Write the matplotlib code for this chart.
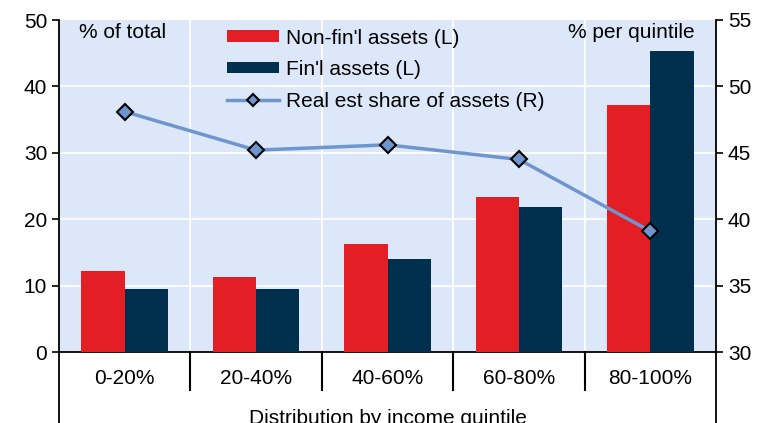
import matplotlib
matplotlib.use("Agg")
import matplotlib.pyplot as plt
from matplotlib.lines import Line2D
import numpy as np

plt.rcParams['font.family'] = ['Liberation Sans', 'DejaVu Sans']

categories = ["0-20%", "20-40%", "40-60%", "60-80%", "80-100%"]
nonfin = [12.2, 11.3, 16.3, 23.3, 37.2]
fin = [9.5, 9.5, 14.0, 21.8, 45.3]
realest = [48.1, 45.2, 45.6, 44.5, 39.1]

RED = "#E31E24"
NAVY = "#00304E"
LINEC = "#6F95CF"
BG = "#DCE8FA"
FS = 15

fig = plt.figure(figsize=(7.72, 4.23), dpi=100)
ax = fig.add_axes([59/772, 1-352/423, (716-59)/772, (352-20)/423])
ax.set_facecolor(BG)
x = np.arange(len(categories))
w = 0.33
b1 = ax.bar(x - w/2, nonfin, w, color=RED, label="Non-fin'l assets (L)", zorder=3)
b2 = ax.bar(x + w/2, fin, w, color=NAVY, label="Fin'l assets (L)", zorder=3)
ax.set_xlim(-0.5, len(categories) - 0.5)
ax.set_ylim(0, 50)
ax.set_yticks(range(0, 51, 10))
ax.tick_params(axis='y', labelsize=FS, direction='out', length=5, width=1.2)
ax.set_xticks([])
for v in range(10, 50, 10):
    ax.axhline(v, color='white', lw=1.3, zorder=1)
for b in np.arange(0.5, len(categories) - 0.5, 1):
    ax.axvline(b, color='white', lw=1.3, zorder=1)
ax.spines['top'].set_visible(False)
ax.spines['left'].set_linewidth(1.3)
ax.spines['bottom'].set_linewidth(1.3)
ax.spines['right'].set_visible(False)

ax2 = ax.twinx()
ax2.set_ylim(30, 55)
ax2.set_yticks(range(30, 56, 5))
ax2.tick_params(axis='y', labelsize=FS, direction='out', length=5, width=1.2)
ax2.spines['top'].set_visible(False)
ax2.spines['left'].set_visible(False)
ax2.spines['bottom'].set_visible(False)
ax2.spines['right'].set_linewidth(1.3)
ln, = ax2.plot(x, realest, color=LINEC, lw=2.5, marker='D', markersize=8,
               markerfacecolor=LINEC, markeredgecolor='black', markeredgewidth=1.5,
               label="Real est share of assets (R)", zorder=4)

ax.text(0.03, 0.99, "% of total", transform=ax.transAxes, fontsize=FS, va='top', ha='left', zorder=6)
ax.text(0.968, 0.99, "% per quintile", transform=ax.transAxes, fontsize=FS, va='top', ha='right', zorder=6)

ln_handle = Line2D([], [], color=LINEC, lw=2.5, marker='D', markersize=6,
                   markerfacecolor=LINEC, markeredgecolor='black', markeredgewidth=1.5)
leg = ax2.legend([b1, b2, ln_handle], [b1.get_label(), b2.get_label(), ln.get_label()],
                 loc='upper left', bbox_to_anchor=(0.237, 1.012), frameon=False,
                 fontsize=FS, handlelength=2.5, handleheight=0.45, handletextpad=0.3,
                 labelspacing=0.6, borderaxespad=0.2)

for i, c in enumerate(categories):
    ax.annotate(c, xy=(i, 0), xycoords=('data', 'axes fraction'), xytext=(0, -19),
                textcoords='offset points', ha='center', va='center', fontsize=FS,
                annotation_clip=False)
for b in np.arange(0.5, len(categories) - 0.5, 1):
    ax.plot([b, b], [0, -38/332], transform=ax.get_xaxis_transform(), color='black',
            lw=1.5, clip_on=False, zorder=5)
ax.plot([0, 0], [0, -71/332], transform=ax.transAxes, color='black', lw=1.3, clip_on=False)
ax.plot([1, 1], [0, -71/332], transform=ax.transAxes, color='black', lw=1.3, clip_on=False)
ax.text(0.5, -66/332, "Distribution by income quintile", transform=ax.transAxes,
        ha='center', va='center', fontsize=FS)

fig.savefig("out.png", dpi=100)
